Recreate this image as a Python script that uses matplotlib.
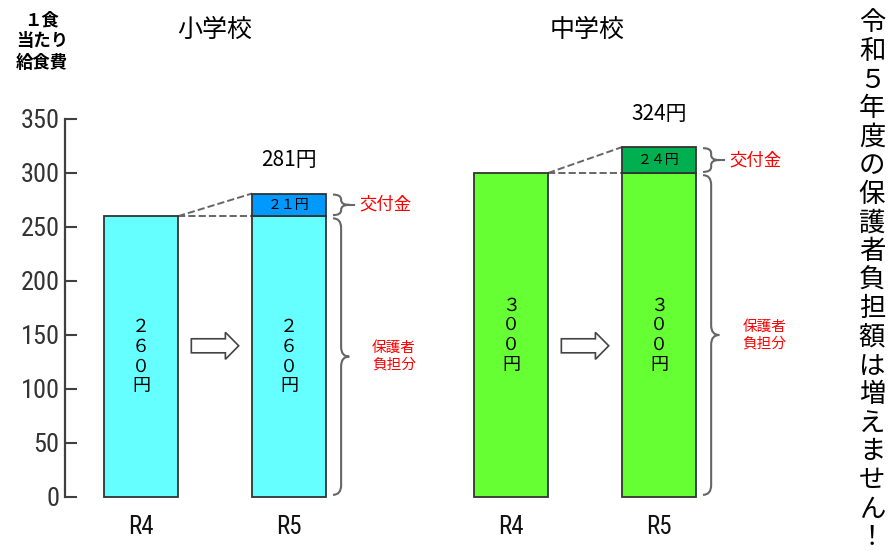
import matplotlib
matplotlib.use('Agg')
import matplotlib.pyplot as plt
from matplotlib import font_manager
from matplotlib.path import Path
from matplotlib.patches import PathPatch, FancyArrow

plt.rcParams['font.family'] = ['Noto Sans CJK JP', 'DejaVu Sans']

# ---------------- data ----------------
schools = ['小学校', '中学校']
years = ['R4', 'R5']
elem_base = [260, 260]      # 保護者負担分
elem_subsidy = [0, 21]      # 交付金
mid_base = [300, 300]
mid_subsidy = [0, 24]
y_ticks = [0, 50, 100, 150, 200, 250, 300, 350]
side_title = '令和５年度の保護者負担額は増えません！'
y_title = ['１食', '当たり', '給食費']

base_colors = ['#66FFFF', '#66FF33']
sub_colors = ['#0099FF', '#00B050']

# ---------------- layout ----------------
W, H = 891, 551
fig = plt.figure(figsize=(W / 100, H / 100), dpi=100)
def fx(x): return x / W
def fy(y): return 1 - y / H

ax = fig.add_axes([fx(65), fy(497), (830 - 65) / W, (497 - 119) / H])
ax.set_xlim(-0.5135, 4.655)
ax.set_ylim(0, 350)

group_gap = 2.5
bw = 0.5
avail = {f.name for f in font_manager.fontManager.ttflist}
narrow_cands = [n for n in ['Liberation Sans Narrow', 'Roboto Condensed', 'Open Sans Condensed',
                            'DejaVu Sans Condensed'] if n in avail]
narrow = narrow_cands[:1] + ['DejaVu Sans']
fw = str.maketrans('0123456789', '０１２３４５６７８９')
edge = '#333333'
brace_col = '#666666'


def brace(x, y0, y1, w, r, stub=0.0):
    ym = (y0 + y1) / 2
    xm = x + w / 2
    verts = [(x, y1), (xm, y1), (xm, y1 - r), (xm, ym + r), (xm, ym), (x + w, ym),
             (xm, ym), (xm, ym - r), (xm, y0 + r), (xm, y0), (x, y0)]
    codes = [Path.MOVETO, Path.CURVE3, Path.CURVE3, Path.LINETO, Path.CURVE3, Path.CURVE3,
             Path.CURVE3, Path.CURVE3, Path.LINETO, Path.CURVE3, Path.CURVE3]
    ax.add_patch(PathPatch(Path(verts, codes), fc='none', ec=brace_col, lw=1.5))
    if stub:
        ax.plot([x + w, x + w + stub], [ym, ym], color=brace_col, lw=1.5)


xs_all, labels_all = [], []
for g, (bases, subs) in enumerate([(elem_base, elem_subsidy), (mid_base, mid_subsidy)]):
    xs = [g * group_gap + i for i in range(len(years))]
    xs_all += xs
    labels_all += years
    ax.bar(xs, bases, width=bw, color=base_colors[g], edgecolor=edge, linewidth=1.3,
           clip_on=False, zorder=2)
    for i, (x, b, s) in enumerate(zip(xs, bases, subs)):
        # vertical value label inside the bar
        chars = list(str(b).translate(fw)) + ['円']
        n = len(chars)
        for k, ch in enumerate(chars):
            ax.annotate(ch, xy=(x, b / 2), xytext=(0, ((n - 1) / 2 - k) * 14.2),
                        textcoords='offset points', ha='center', va='center',
                        fontsize=13, zorder=4)
        if s > 0:
            ax.bar([x], [s], bottom=[b], width=bw, color=sub_colors[g], edgecolor=edge,
                   linewidth=1.3, zorder=2)
            ax.text(x, b + s / 2, str(s).translate(fw) + '円', ha='center', va='center',
                    fontsize=10, zorder=4)
            ax.annotate(f'{b + s}円', xy=(x, b + s), xytext=(0, 24),
                        textcoords='offset points', ha='center', va='center', fontsize=15)
            # dashed connector from previous year's bar
            xp, bp = xs[i - 1], bases[i - 1]
            ax.plot([xp + bw / 2, x - bw / 2], [bp, b + s], ls='--', color=brace_col, lw=1.4, zorder=1)
            ax.plot([xp + bw / 2, x - bw / 2], [bp, b], ls='--', color=brace_col, lw=1.4, zorder=1)
            # braces
            bx = x + bw / 2 + 0.047
            brace(bx, b + 1, b + s - 1, 0.11, 4.5, stub=0.03)
            brace(bx, 2, b - 2, 0.11, 9)
            ax.text(x + bw / 2 + 0.225, b + s / 2, '交付金', color='red', fontsize=12.5,
                    ha='left', va='center')
            ax.text(x + bw / 2 + 0.46, b / 2, '保護者\n負担分', color='red', fontsize=10.5,
                    ha='center', va='center', linespacing=1.25)
    # hollow arrow between the two years
    gap_l = xs[0] + bw / 2
    gap_r = xs[1] - bw / 2
    alen = 0.32
    a0 = (gap_l + gap_r) / 2 - alen / 2
    ax.add_patch(FancyArrow(a0, 140, alen, 0, width=13, head_width=25, head_length=0.09,
                            length_includes_head=True, fc='white', ec='#444444', lw=1.2,
                            zorder=3))

# axes styling
for sp in ['top', 'right', 'bottom']:
    ax.spines[sp].set_visible(False)
ax.spines['left'].set_color('#404040')
ax.spines['left'].set_linewidth(1.6)
ax.set_yticks(y_ticks)
ax.tick_params(axis='y', direction='in', length=8.5, width=1.5, color='#404040',
               labelcolor='#333333', labelsize=19, pad=4)
for lab in ax.get_yticklabels():
    lab.set_family(narrow)
    lab.set_stretch('condensed')
ax.set_xticks(xs_all, labels_all)
ax.tick_params(axis='x', length=0, pad=13, labelsize=18, labelcolor='#111111')
for lab in ax.get_xticklabels():
    lab.set_family(narrow)
    lab.set_stretch('condensed')

# titles
fig.text(fx(215), fy(30), schools[0], ha='center', va='center', fontsize=18)
fig.text(fx(587), fy(30), schools[1], ha='center', va='center', fontsize=18)
for t, yy in zip(y_title, [20, 41, 63]):
    fig.text(fx(42), fy(yy), t, ha='center', va='center', fontsize=12.5, weight='bold')
for k, ch in enumerate(side_title):
    fig.text(fx(872), fy(23 + k * 28.6), ch, ha='center', va='center', fontsize=19)

fig.savefig('out.png', dpi=100)
